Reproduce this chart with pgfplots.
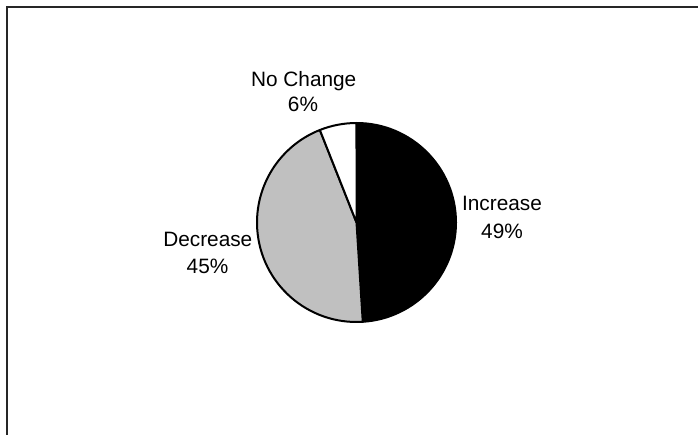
\documentclass[border=0pt]{standalone}
\usepackage{pgfplots}
\usepackage{pgfplotstable}
\pgfplotsset{compat=1.18}
\usepackage{fontspec}
\setmainfont{Liberation Sans}
\definecolor{piegray}{HTML}{C0C0C0}
\pgfplotstableread{
label value
Increase 49
Decrease 45
NoChange 6
}\piedata
\begin{document}
\begin{tikzpicture}
\pgfplotstablegetelem{0}{value}\of\piedata \pgfmathsetmacro{\va}{\pgfplotsretval}
\pgfplotstablegetelem{1}{value}\of\piedata \pgfmathsetmacro{\vb}{\pgfplotsretval}
\pgfplotstablegetelem{2}{value}\of\piedata \pgfmathsetmacro{\vc}{\pgfplotsretval}
\pgfmathsetmacro{\tot}{\va+\vb+\vc}
\pgfmathsetmacro{\fa}{\va/\tot}
\pgfmathsetmacro{\fb}{\vb/\tot}
\pgfmathsetmacro{\fc}{\vc/\tot}
\pgfmathsetmacro{\aA}{90}
\pgfmathsetmacro{\aB}{90-360*\fa}
\pgfmathsetmacro{\aC}{\aB-360*\fb}
\pgfmathsetmacro{\aD}{\aC-360*\fc}
\begin{axis}[
  x=1pt, y=1pt, y dir=reverse,
  xmin=0, xmax=698, ymin=0, ymax=435,
  hide axis, clip=false, scale only axis,
]
\coordinate (bl) at (axis cs:0,435);
\coordinate (tr) at (axis cs:698,0);
\addplot[black!85, line width=2pt, forget plot] coordinates {(6.5,436) (6.5,7.5) (699,7.5)};
\filldraw[fill=black, draw=black, line width=2pt, line join=round]
  (axis cs:356.5,222.5) -- ++(\aA:99.5pt) arc[start angle=\aA, end angle=\aB, radius=99.5pt] -- cycle;
\filldraw[fill=piegray, draw=black, line width=2pt, line join=round]
  (axis cs:356.5,222.5) -- ++(\aB:99.5pt) arc[start angle=\aB, end angle=\aC, radius=99.5pt] -- cycle;
\filldraw[fill=white, draw=black, line width=2pt, line join=round]
  (axis cs:356.5,222.5) -- ++(\aC:99.5pt) arc[start angle=\aC, end angle=\aD, radius=99.5pt] -- cycle;
\begin{scope}[every node/.style={inner sep=0pt, anchor=base, font=\fontsize{20.8}{25}\selectfont}]
\node at (axis cs:303.7,86.5) {No Change};
\node at (axis cs:303,112) {6\%};
\node at (axis cs:502,210.7) {Increase};
\node at (axis cs:502,239) {49\%};
\node at (axis cs:207.8,246.8) {Decrease};
\node at (axis cs:207.5,273.5) {45\%};
\end{scope}
\end{axis}
\pgfresetboundingbox
\useasboundingbox (bl) rectangle (tr);
\end{tikzpicture}
\end{document}
